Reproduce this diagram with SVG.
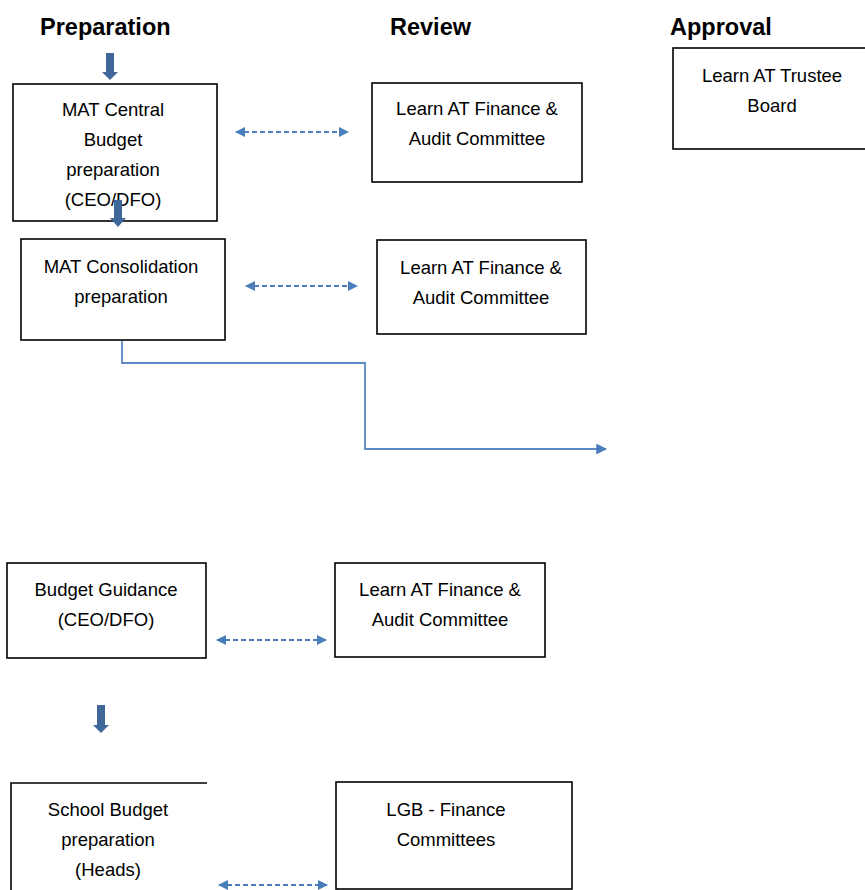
<svg xmlns="http://www.w3.org/2000/svg" width="865" height="890" viewBox="0 0 865 890">
<style>
.box{fill:#fff;stroke:#000;stroke-width:1.6}
.t{font-family:"Liberation Sans",Arial,sans-serif;font-size:18.5px;fill:#000;text-anchor:middle}
.h{font-family:"Liberation Sans",Arial,sans-serif;font-size:23.5px;font-weight:bold;fill:#000}
.dash{stroke:#4a7ebb;stroke-width:2;stroke-dasharray:5 3;fill:none;marker-start:url(#ah);marker-end:url(#ah)}
.blk{fill:#3f6799}
</style>
<defs>
<marker id="ah" viewBox="0 0 10 10" refX="9" refY="5" markerWidth="5.5" markerHeight="5" markerUnits="strokeWidth" orient="auto-start-reverse">
<path d="M0,0 L10,5 L0,10 z" fill="#4a7ebb"/>
</marker>
<marker id="ah2" viewBox="0 0 10 10" refX="9" refY="5" markerWidth="7" markerHeight="6" markerUnits="strokeWidth" orient="auto">
<path d="M0,0 L10,5 L0,10 z" fill="#4a7ebb"/>
</marker>
</defs>
<g id="headers">
<text class="h" x="40" y="35">Preparation</text>
<text class="h" x="390" y="35">Review</text>
<text class="h" x="670" y="35">Approval</text>
</g>
<g id="n-mat-central">
<rect class="box" x="13" y="84" width="204" height="137"/>
<text class="t" x="113" y="116">MAT Central</text>
<text class="t" x="113" y="146">Budget</text>
<text class="t" x="113" y="176">preparation</text>
<text class="t" x="113" y="206">(CEO/DFO)</text>
</g>
<g id="n-fac1">
<rect class="box" x="372" y="83" width="210" height="99"/>
<text class="t" x="477" y="115">Learn AT Finance &amp;</text>
<text class="t" x="477" y="145">Audit Committee</text>
</g>
<g id="n-trustee">
<rect class="box" x="673" y="48" width="194" height="101"/>
<text class="t" x="772" y="82">Learn AT Trustee</text>
<text class="t" x="772" y="112">Board</text>
</g>
<g id="n-consolidation">
<rect class="box" x="21" y="239" width="204" height="101"/>
<text class="t" x="121" y="273">MAT Consolidation</text>
<text class="t" x="121" y="303">preparation</text>
</g>
<g id="n-fac2">
<rect class="box" x="377" y="240" width="209" height="94"/>
<text class="t" x="481" y="274">Learn AT Finance &amp;</text>
<text class="t" x="481" y="304">Audit Committee</text>
</g>
<g id="n-guidance">
<rect class="box" x="7" y="563" width="199" height="95"/>
<text class="t" x="106" y="596">Budget Guidance</text>
<text class="t" x="106" y="626">(CEO/DFO)</text>
</g>
<g id="n-fac3">
<rect class="box" x="335" y="563" width="210" height="94"/>
<text class="t" x="440" y="596">Learn AT Finance &amp;</text>
<text class="t" x="440" y="626">Audit Committee</text>
</g>
<g id="n-school">
<path d="M207,783 H11 V892" fill="none" stroke="#000" stroke-width="1.6"/>
<text class="t" x="108" y="816">School Budget</text>
<text class="t" x="108" y="846">preparation</text>
<text class="t" x="108" y="876">(Heads)</text>
</g>
<g id="n-lgb">
<rect class="box" x="336" y="782" width="236" height="107"/>
<text class="t" x="446" y="816">LGB - Finance</text>
<text class="t" x="446" y="846">Committees</text>
</g>
<g id="connectors">
<path class="blk" d="M106,53 H114 V72 H118 L110,80 L102,72 H106 Z"/>
<path class="blk" d="M114,200 H122 V218 H126 L118,227 L110,218 H114 Z"/>
<path class="blk" d="M97,705 H105 V725 H109 L101,733 L93,725 H97 Z"/>
<line class="dash" x1="236" y1="132" x2="348" y2="132"/>
<line class="dash" x1="246" y1="286" x2="357" y2="286"/>
<line class="dash" x1="217" y1="640" x2="326" y2="640"/>
<line class="dash" x1="219" y1="885" x2="327" y2="885"/>
<path d="M122,341 V363 H365 V449 H606" fill="none" stroke="#5a89c4" stroke-width="1.8" marker-end="url(#ah2)"/>
</g>
</svg>
